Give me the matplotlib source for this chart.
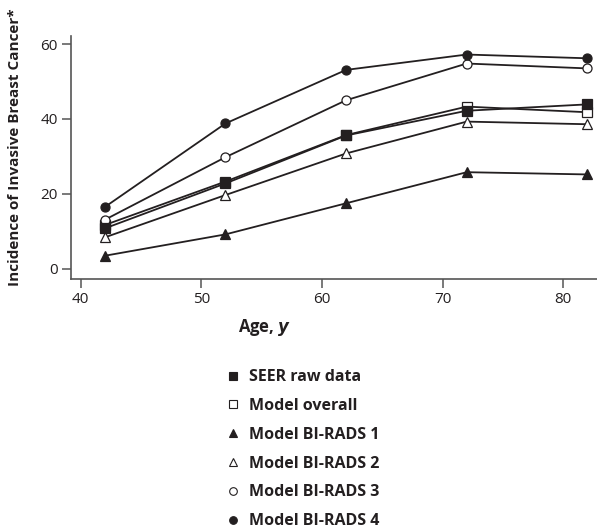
import matplotlib
matplotlib.use("Agg")
import matplotlib.pyplot as plt
from matplotlib.lines import Line2D

plt.rcParams['font.family'] = ['Open Sans', 'DejaVu Sans']

ink = '#231f20'

ages = [42, 52, 62, 72, 82]
seer_raw = [10.8, 22.8, 35.6, 42.2, 43.9]
model_overall = [11.7, 23.3, 35.7, 43.3, 41.8]
birads_1 = [3.5, 9.2, 17.5, 25.8, 25.2]
birads_2 = [8.4, 19.7, 30.8, 39.3, 38.6]
birads_3 = [13.1, 29.8, 45.0, 54.8, 53.5]
birads_4 = [16.5, 38.8, 53.1, 57.2, 56.2]

series_labels = ["SEER raw data", "Model overall", "Model BI-RADS 1",
                 "Model BI-RADS 2", "Model BI-RADS 3", "Model BI-RADS 4"]
x_ticks = [40, 50, 60, 70, 80]
y_ticks = [0, 20, 40, 60]

# marker, filled?
styles = [('s', True), ('s', False), ('^', True), ('^', False), ('o', False), ('o', True)]
series = [seer_raw, model_overall, birads_1, birads_2, birads_3, birads_4]
zorders = [9, 4, 5, 6, 7, 8]

fig = plt.figure(figsize=(5.97, 5.32), dpi=100)
ax = fig.add_axes([0.119, 0.4756, 0.881, 0.4564])

for i in range(len(series)):
    marker, filled = styles[i]
    ax.plot(ages, series[i], color=ink, lw=1.3, marker=marker,
            markersize=7 if marker == '^' else 6.5,
            markerfacecolor=ink if filled else 'white',
            markeredgecolor=ink, markeredgewidth=0.9, zorder=zorders[i])

ax.set_xlim(39.2, 82.8)
ax.set_ylim(-2.7, 62.1)
ax.set_xticks(x_ticks)
ax.set_yticks(y_ticks)
for side in ['top', 'right']:
    ax.spines[side].set_visible(False)
for side in ['left', 'bottom']:
    ax.spines[side].set_color('#555555')
    ax.spines[side].set_linewidth(1.2)
ax.tick_params(length=6.5, width=1.1, color='#555555', labelsize=11,
               labelcolor=ink, pad=3)

ax.set_xlabel("Age, $\\boldsymbol{y}$", fontsize=12, fontweight='bold', color=ink)
ax.xaxis.set_label_coords(0.368, -0.158)
ax.set_ylabel("Incidence of Invasive Breast Cancer*", fontsize=11,
              fontweight='bold', color=ink)
ax.yaxis.set_label_coords(-0.094, 0.542)

handles = []
for (marker, filled), lab in zip(styles, series_labels):
    handles.append(Line2D([], [], ls='none', marker=marker, markersize=6 if marker != 'o' else 5.5,
                          markerfacecolor=ink if filled else 'white',
                          markeredgecolor=ink, markeredgewidth=0.8, label=lab))
leg = fig.legend(handles=handles, loc='upper left', bbox_to_anchor=(0.378, 0.306),
                 frameon=False, borderpad=0, borderaxespad=0, handlelength=0.95,
                 handletextpad=0.5, labelspacing=0.8,
                 prop={'size': 11.5, 'weight': 'bold'})
for t in leg.get_texts():
    t.set_color(ink)

fig.savefig("out.png", dpi=100)
